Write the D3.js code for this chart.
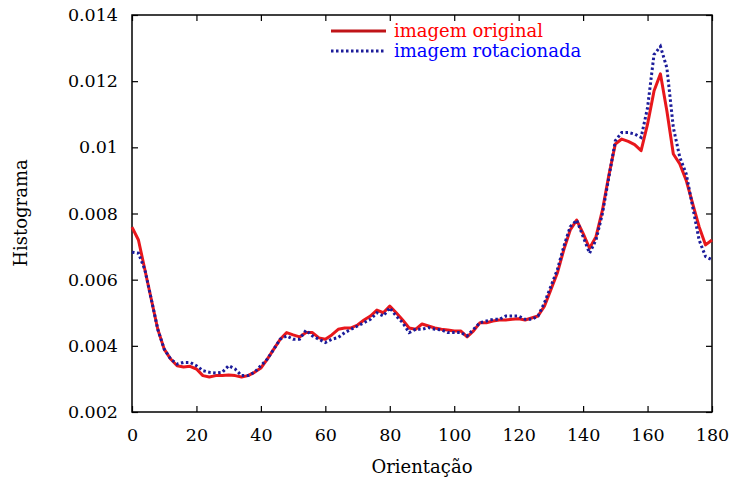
<!DOCTYPE html>
<html><head><meta charset="utf-8">
<script src="https://cdn.jsdelivr.net/npm/d3@7/dist/d3.min.js"></script>
<style>body{margin:0;background:#fff}svg{display:block}text{font-family:"DejaVu Serif",serif}</style>
</head><body><svg id="c" width="734" height="479"></svg>
<script>
const angles = [0,2,4,6,8,10,12,14,16,18,20,22,24,26,28,30,32,34,36,38,40,42,44,46,48,50,52,54,56,58,60,62,64,66,68,70,72,74,76,78,80,82,84,86,88,90,92,94,96,98,100,102,104,106,108,110,112,114,116,118,120,122,124,126,128,130,132,134,136,138,140,142,144,146,148,150,152,154,156,158,160,162,164,166,168,170,172,174,176,178,180];
const original = [0.00759,0.0072,0.0063,0.0054,0.0045,0.0039,0.0036,0.0034,0.00336,0.00338,0.0033,0.0031,0.00306,0.0031,0.0031,0.00312,0.0031,0.00306,0.0031,0.0032,0.00333,0.0036,0.0039,0.0042,0.0044,0.00433,0.00427,0.0044,0.0044,0.00424,0.0042,0.00433,0.0045,0.00454,0.00454,0.00463,0.00478,0.0049,0.00508,0.005,0.0052,0.005,0.00478,0.00454,0.0045,0.00466,0.0046,0.00454,0.0045,0.00448,0.00445,0.00445,0.00427,0.00445,0.0047,0.0047,0.00475,0.00478,0.00478,0.0048,0.00482,0.00478,0.00484,0.0049,0.0052,0.0057,0.0062,0.0069,0.0075,0.0078,0.0074,0.00695,0.0073,0.0081,0.00916,0.0101,0.01025,0.01018,0.01008,0.0099,0.0107,0.0117,0.01222,0.0111,0.0098,0.0095,0.009,0.0083,0.0076,0.00705,0.0072];
const rotacionada = [0.00683,0.0068,0.0063,0.0054,0.0045,0.0039,0.0036,0.00345,0.0035,0.0035,0.0034,0.00325,0.0032,0.00318,0.0032,0.0034,0.0033,0.0031,0.0031,0.0032,0.0034,0.0036,0.0039,0.0042,0.0043,0.0042,0.0042,0.00447,0.0043,0.0042,0.0041,0.0042,0.00425,0.0044,0.0045,0.0046,0.0047,0.0048,0.005,0.0049,0.00515,0.0049,0.0047,0.0044,0.0045,0.0045,0.00455,0.0045,0.00448,0.0044,0.0044,0.0044,0.0043,0.0045,0.0047,0.00475,0.0048,0.0048,0.0049,0.0049,0.0049,0.0048,0.0048,0.0049,0.0053,0.0058,0.0063,0.007,0.0076,0.0078,0.0073,0.0068,0.0072,0.008,0.0091,0.0102,0.01045,0.01045,0.0104,0.0103,0.0112,0.0128,0.01305,0.0124,0.0106,0.0097,0.0092,0.0082,0.0072,0.0067,0.0066];
const xTicks = [0,20,40,60,80,100,120,140,160,180];
const yTicks = [0.002,0.004,0.006,0.008,0.01,0.012,0.014];
const yTickLabels = ["0.002","0.004","0.006","0.008","0.01","0.012","0.014"];
const seriesNames = ["imagem original","imagem rotacionada"];

const svg = d3.select("#c");
const L=132,R=712,T=15,B=412;
const x = d3.scaleLinear().domain([0,180]).range([L,R]);
const y = d3.scaleLinear().domain([0.002,0.014]).range([B,T]);

const fsTick = 17.5, fs = 18;
const axB = svg.append("g").attr("transform",`translate(0,${B})`)
  .call(d3.axisBottom(x).tickValues(xTicks).tickSizeInner(-6).tickSizeOuter(0).tickPadding(17).tickFormat(d3.format("d")));
const axT = svg.append("g").attr("transform",`translate(0,${T})`)
  .call(d3.axisTop(x).tickValues(xTicks).tickSizeInner(-6).tickSizeOuter(0).tickFormat(""));
const axL = svg.append("g").attr("transform",`translate(${L},0)`)
  .call(d3.axisLeft(y).tickValues(yTicks).tickSizeInner(-6).tickSizeOuter(0).tickPadding(14).tickFormat((d,i)=>yTickLabels[i]));
const axR = svg.append("g").attr("transform",`translate(${R},0)`)
  .call(d3.axisRight(y).tickValues(yTicks).tickSizeInner(-6).tickSizeOuter(0).tickFormat(""));
[axB,axT,axL,axR].forEach(a=>{
  a.select(".domain").remove();
  a.selectAll("line").attr("stroke","#000").attr("stroke-width",1.2);
  a.selectAll("text").attr("font-family","DejaVu Serif").attr("font-size",fsTick).attr("fill","#000");
});
svg.append("rect").attr("x",L).attr("y",T).attr("width",R-L).attr("height",B-T)
  .attr("fill","none").attr("stroke","#000").attr("stroke-width",1.5);

const line = d3.line().x((d,i)=>x(angles[i])).y(d=>y(d));
svg.append("path").datum(original).attr("d",line).attr("fill","none")
  .attr("stroke","#e8171c").attr("stroke-width",3).attr("stroke-linejoin","round");
svg.append("path").datum(rotacionada).attr("d",line).attr("fill","none")
  .attr("stroke","#1c1c9a").attr("stroke-width",3).attr("stroke-dasharray","2.5,2.5");

const lg = svg.append("g");
lg.append("line").attr("x1",331).attr("x2",386).attr("y1",31).attr("y2",31).attr("stroke","#c01418").attr("stroke-width",3);
lg.append("text").attr("x",394).attr("y",37).attr("font-size",fs).attr("fill","#ff0000").text(seriesNames[0]);
lg.append("line").attr("x1",331).attr("x2",386).attr("y1",51).attr("y2",51).attr("stroke","#1c1c9a").attr("stroke-width",3).attr("stroke-dasharray","2.5,2.5");
lg.append("text").attr("x",394).attr("y",57).attr("font-size",fs).attr("fill","#0000ff").text(seriesNames[1]);

svg.append("text").attr("x",422).attr("y",473).attr("text-anchor","middle").attr("font-size",fs).text("Orientação");
svg.append("text").attr("transform","translate(27,213) rotate(-90)").attr("text-anchor","middle").attr("font-size",fs).text("Histograma");
</script></body></html>
